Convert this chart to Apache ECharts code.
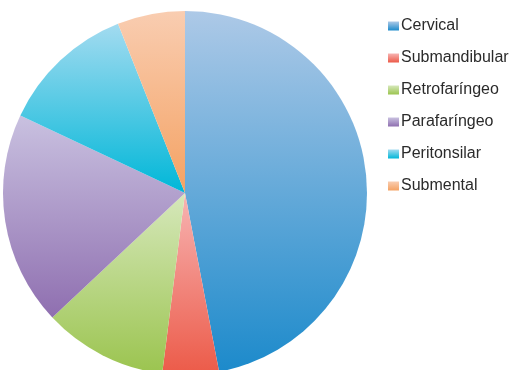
<!DOCTYPE html>
<html>
<head>
<meta charset="utf-8">
<script src="https://cdn.jsdelivr.net/npm/echarts@6/dist/echarts.min.js"></script>
<style>
  html, body { margin: 0; padding: 0; background: #fff; }
  #chart { width: 510px; height: 370px; }
</style>
</head>
<body>
<div id="chart"></div>
<script>
// Abscess locations and their share (%)
const categories = ['Cervical', 'Submandibular', 'Retrofaríngeo', 'Parafaríngeo', 'Peritonsilar', 'Submental'];
const values = [47, 5, 11, 19, 12, 6];

// Top (light) and bottom (dark) shade of each slice's vertical gradient
const topColors = ['#adc9e7', '#f7b4b3', '#d6e8bb', '#c9c1e0', '#a3dbf0', '#f9cdb1'];
const bottomColors = ['#1c8acb', '#ec5a48', '#9bc44f', '#8f6fb0', '#00b7d8', '#f4a263'];

function gradient(i) {
  return new echarts.graphic.LinearGradient(0, 0, 0, 1, [
    { offset: 0, color: topColors[i] },
    { offset: 1, color: bottomColors[i] }
  ]);
}

const chart = echarts.init(document.getElementById('chart'), null, { renderer: 'canvas' });
chart.setOption({
  animation: false,
  backgroundColor: '#ffffff',
  legend: {
    orient: 'vertical',
    left: 383,
    top: 13,
    itemWidth: 11,
    itemHeight: 9,
    itemGap: 16,
    icon: 'rect',
    textStyle: {
      fontFamily: 'Liberation Sans, Arial, sans-serif',
      fontSize: 16,
      lineHeight: 16,
      color: '#2b2b2b',
      padding: [0, 0, 0, -3]
    },
    data: categories.map((name, i) => ({ name, itemStyle: { color: gradient(i) } }))
  },
  series: [{
    type: 'pie',
    center: [185, 193],
    radius: 182,
    startAngle: 90,
    clockwise: true,
    label: { show: false },
    labelLine: { show: false },
    emphasis: { disabled: true },
    itemStyle: { borderWidth: 0 },
    data: categories.map((name, i) => ({
      name,
      value: values[i],
      itemStyle: { color: gradient(i) }
    }))
  }]
});
</script>
</body>
</html>
